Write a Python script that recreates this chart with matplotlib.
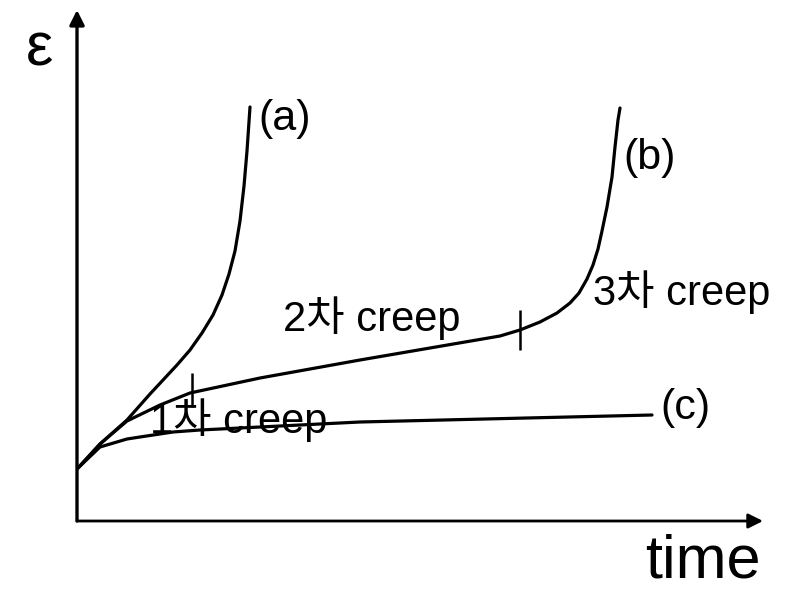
import matplotlib
matplotlib.use('Agg')
import matplotlib.pyplot as plt
import numpy as np

plt.rcParams['font.family'] = ['Liberation Sans', 'Noto Sans CJK KR', 'DejaVu Sans']

# curve data (time, strain)
t_a = [1, 23, 50, 73, 100, 113, 125, 136, 145, 152, 158, 163, 167, 170, 173]
e_a = [53, 77, 101, 127, 156, 171, 188, 206, 226, 247, 270, 300, 335, 370, 414]

t_b = [1, 23, 50, 83, 113, 183, 283, 423, 443, 463, 480, 493, 502, 510, 516, 521, 525, 530, 535, 538, 541, 543]
e_b = [53, 77, 100, 116, 128, 143, 161, 185, 191, 199, 208, 218, 228, 242, 256, 272, 290, 314, 344, 374, 401, 413]

t_c = [1, 23, 50, 63, 96, 123, 283, 575]
e_c = [53, 74, 82, 84, 89, 91, 99, 106]

# stage boundaries on curve (b)
tick_t = [115, 443]
tick_lo = [114, 171]
tick_hi = [148, 211]

fig = plt.figure(figsize=(7.92, 5.93), dpi=100)
ax = fig.add_axes([77/792, 72/593, 686/792, 511/593])
ax.set_xlim(0, 686)
ax.set_ylim(0, 511)
ax.axis('off')

# axes with arrows
ax.annotate('', xy=(686, 0), xytext=(0, 0), annotation_clip=False,
            arrowprops=dict(arrowstyle='-|>', lw=2, color='black', mutation_scale=22, shrinkA=0, shrinkB=0))
ax.annotate('', xy=(0, 511), xytext=(0, 0), annotation_clip=False,
            arrowprops=dict(arrowstyle='-|>', lw=2.4, color='black', mutation_scale=22, shrinkA=0, shrinkB=0))

for tt, ee in [(t_a, e_a), (t_b, e_b), (t_c, e_c)]:
    ax.plot(tt, ee, color='black', lw=2.3, clip_on=False,
            solid_joinstyle='round', solid_capstyle='round')
ax.vlines(tick_t, tick_lo, tick_hi, color='black', lw=1.8)

ax.text(181, 402, '(a)', fontsize=31, va='center', ha='left')
ax.text(546, 363, '(b)', fontsize=31, va='center', ha='left')
ax.text(583, 113, '(c)', fontsize=31, va='center', ha='left')

ax.text(73, 101, '1차 creep', fontsize=30, va='center', ha='left')
ax.text(206, 203, '2차 creep', fontsize=30, va='center', ha='left')
ax.text(516, 229, '3차 creep', fontsize=30, va='center', ha='left')

ax.text(568, -41, 'time', fontsize=44, va='center', ha='left', clip_on=False)
ax.text(-38, 471, 'ε', fontsize=44, va='center', ha='center', clip_on=False)

fig.savefig('out.png', dpi=100)
